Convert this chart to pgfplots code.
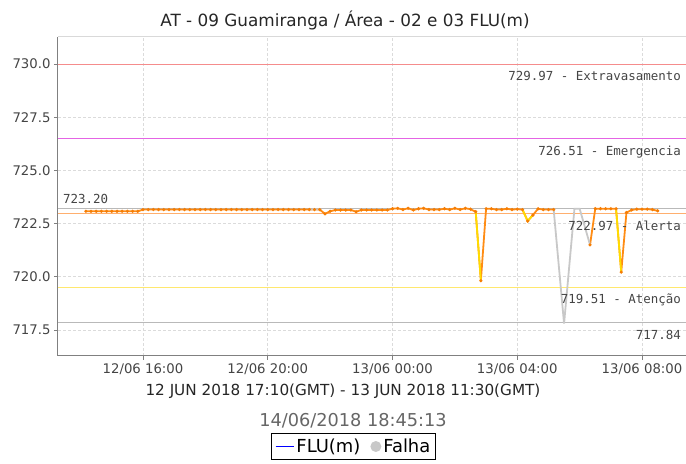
\documentclass[border=0pt]{standalone}
\usepackage{fontspec}
\setmainfont{DejaVu Sans}
\newfontfamily\monof{DejaVu Sans Mono}
\usepackage{pgfplots}
\pgfplotsset{compat=1.18}
\definecolor{cExtra}{RGB}{245,140,140}
\definecolor{cEmer}{RGB}{228,100,228}
\definecolor{cAlert}{RGB}{255,175,110}
\definecolor{cAten}{RGB}{255,232,110}
\definecolor{cRef}{RGB}{185,185,185}
\definecolor{cData}{RGB}{255,140,20}
\definecolor{cMark}{RGB}{245,125,5}
\definecolor{cYel}{RGB}{255,220,0}
\definecolor{cFail}{RGB}{200,200,200}
\definecolor{cTxt}{RGB}{68,68,68}
\pgfplotstableread{
t v
14.167 723.08
14.333 723.08
14.500 723.08
14.667 723.08
14.833 723.08
15.000 723.08
15.167 723.08
15.333 723.08
15.500 723.08
15.667 723.08
15.833 723.08
16.000 723.16
16.167 723.16
16.333 723.16
16.500 723.16
16.667 723.16
16.833 723.16
17.000 723.16
17.167 723.16
17.333 723.16
17.500 723.16
17.667 723.16
17.833 723.16
18.000 723.16
18.167 723.16
18.333 723.16
18.500 723.16
18.667 723.16
18.833 723.16
19.000 723.16
19.167 723.16
19.333 723.16
19.500 723.16
19.667 723.16
19.833 723.16
20.000 723.16
20.167 723.16
20.333 723.16
20.500 723.16
20.667 723.16
20.833 723.16
21.000 723.16
21.167 723.16
21.333 723.16
21.500 723.16
21.667 723.16
21.833 722.96
22.000 723.08
22.167 723.14
22.333 723.14
22.500 723.14
22.667 723.14
22.833 723.06
23.000 723.14
23.167 723.14
23.333 723.14
23.500 723.14
23.667 723.14
23.833 723.14
24.000 723.20
24.167 723.22
24.333 723.16
24.500 723.22
24.667 723.14
24.833 723.20
25.000 723.22
25.167 723.16
25.333 723.16
25.500 723.16
25.667 723.20
25.833 723.16
26.000 723.22
26.167 723.16
26.333 723.22
26.500 723.18
26.667 723.06
26.833 719.82
27.000 723.20
27.167 723.20
27.333 723.16
27.500 723.16
27.667 723.20
27.833 723.16
28.000 723.18
28.167 723.16
28.333 722.62
28.500 722.90
28.667 723.20
28.833 723.16
29.000 723.16
29.167 723.16
}\dataA
\pgfplotstableread{
t v
30.333 721.50
30.500 723.20
30.667 723.20
30.833 723.20
31.000 723.20
31.167 723.20
31.333 720.22
31.500 723.02
31.667 723.14
31.833 723.18
32.000 723.18
32.167 723.18
32.333 723.16
32.500 723.10
}\dataB
\begin{document}
\begin{tikzpicture}[x=1bp,y=1bp]
\path[use as bounding box] (-58,-108) rectangle (628,356);
\begin{axis}[at={(0,0)}, anchor=south west, scale only axis,
  width=628bp, height=319bp,
  xmin=13.275, xmax=33.41, ymin=716.28, ymax=731.27,
  axis line style={draw=none},
  xtick={16,20,24,28,32},
  xticklabels={12/06 16:00,12/06 20:00,13/06 00:00,13/06 04:00,13/06 08:00},
  ytick={717.5,720,722.5,725,727.5,730},
  yticklabel style={/pgf/number format/.cd, fixed, fixed zerofill, precision=1},
  /pgf/number format/assume math mode=true,
  tick label style={font=\fontsize{13.3}{15}\selectfont, text=cTxt},
  xtick pos=bottom, ytick pos=left,
  tick align=outside, major tick length=4bp,
  tick style={color=gray, line width=0.8bp},
  grid=major, grid style={dash pattern=on 2.5bp off 2.5bp, color=black!14, line width=0.8bp},
  legend style={at={(0.4705,-0.2414)}, anchor=north, draw=black, line width=0.9bp,
    font=\fontsize{18}{20}\selectfont, legend columns=2, inner xsep=3bp, inner ysep=3.5bp,
    /tikz/every even column/.append style={column sep=8bp}},
  legend image code/.code={},
]
\addlegendimage{legend image code/.code={\draw[blue, line width=1.8bp] (0bp,0bp) -- (18bp,0bp);}}
\addlegendentry{FLU(m)}
\addlegendimage{legend image code/.code={\fill[cFail] (10bp,0bp) circle (5bp);}}
\addlegendentry{Falha}
% reference lines
\addplot[cExtra, line width=1bp, forget plot] coordinates {(13,729.97) (34,729.97)};
\addplot[cEmer, line width=1bp, forget plot] coordinates {(13,726.51) (34,726.51)};
\addplot[cRef, line width=1.2bp, forget plot] coordinates {(13,723.20) (34,723.20)};
\addplot[cAlert, line width=1bp, forget plot] coordinates {(13,722.97) (34,722.97)};
\addplot[cAten, line width=1bp, forget plot] coordinates {(13,719.51) (34,719.51)};
\addplot[cRef, line width=1.2bp, forget plot] coordinates {(13,717.84) (34,717.84)};
% data
\addplot[cData, line width=1.8bp, mark=*, mark size=0.5bp, mark options={cMark, draw=none}, forget plot] table[x=t,y=v] {\dataA};
\addplot[cData, line width=1.8bp, mark=*, mark size=0.5bp, mark options={cMark, draw=none}, forget plot] table[x=t,y=v] {\dataB};
% failure
\addplot[cFail, line width=1.8bp, forget plot] coordinates {(21.333,723.16) (21.5,723.18) (21.667,723.16)};
\addplot[cFail, line width=1.8bp, forget plot] coordinates {(29.167,723.16) (29.5,717.80) (29.833,723.20) (30.0,723.20) (30.333,721.50)};
% below alert level
\addplot[cYel, line width=1.8bp, forget plot] coordinates {(26.667,723.06) (26.833,719.82)};
\addplot[cYel, line width=1.8bp, forget plot] coordinates {(28.167,723.16) (28.333,722.62) (28.5,722.90)};
\addplot[cYel, line width=1.8bp, forget plot] coordinates {(31.167,723.20) (31.333,720.22)};
\end{axis}
% axis frame
\draw[black!15, line width=1bp] (0,319) -- (628,319);
\draw[gray, line width=1bp] (0,0) -- (0,319);
\draw[gray, line width=1bp] (0,0) -- (628,0);
% reference labels
\begin{scope}[every node/.style={font=\monof\fontsize{12.5}{14}\selectfont, text=cTxt, inner sep=0pt}]
\node[anchor=north east] at (623,285) {729.97 - Extravasamento};
\node[anchor=north east] at (623,210) {726.51 - Emergencia};
\node[anchor=north east] at (623,135) {722.97 - Alerta};
\node[anchor=north east] at (623,62) {719.51 - Atenção};
\node[anchor=north east] at (623,26) {717.84};
\node[anchor=south west] at (5,152) {723.20};
\end{scope}
% titles
\node[font=\fontsize{16.9}{19}\selectfont, text=black!85] at (287,336) {AT - 09 Guamiranga / Área - 02 e 03 FLU(m)};
\node[font=\fontsize{15.3}{18}\selectfont, text=black!85] at (285,-35) {12 JUN 2018 17:10(GMT) - 13 JUN 2018 11:30(GMT)};
\node[font=\fontsize{17.8}{20}\selectfont, text=black!60] at (295,-65) {14/06/2018 18:45:13};
\end{tikzpicture}
\end{document}
